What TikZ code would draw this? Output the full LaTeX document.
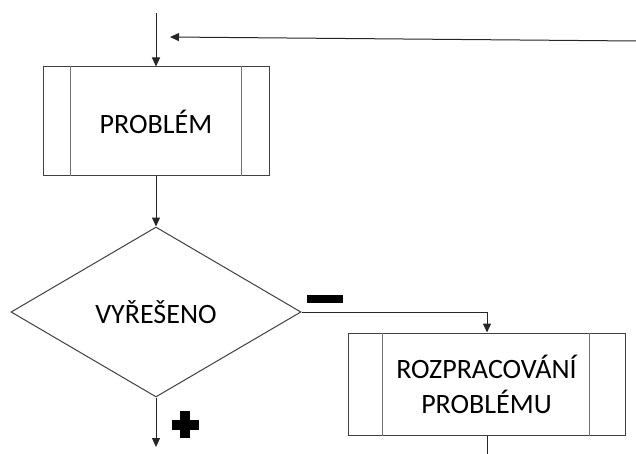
\documentclass[tikz,border=0pt]{standalone}
\usepackage{fontspec}
\setmainfont{Carlito}
\usetikzlibrary{shapes.geometric,arrows.meta}

\begin{document}
\begin{tikzpicture}[x=1pt,y=-1pt,
  frame/.style={draw=black!75,line width=1pt},
  innerline/.style={draw=black!55,line width=1pt},
  flow/.style={draw=black!85,line width=1pt,-{Triangle[width=8pt,length=9pt]}},
  plainflow/.style={draw=black!85,line width=1pt},
  label/.style={font=\fontsize{28}{35}\selectfont,align=center,text=black},
  procbox/.style={frame,rectangle,inner sep=0pt,label},
  decision/.style={frame,diamond,inner sep=0pt,minimum width=290pt,minimum height=170pt,label}
]
\useasboundingbox (0,0) rectangle (636,454);

% process boxes with double side bars
\node[procbox,minimum width=226pt,minimum height=109pt] (problem) at (156,121.5) {PROBLÉM};
\draw[innerline] ([xshift=28pt]problem.north west) -- ([xshift=28pt]problem.south west);
\draw[innerline] ([xshift=-28pt]problem.north east) -- ([xshift=-28pt]problem.south east);

\node[decision] (solved) at (156,312) {VYŘEŠENO};

\node[procbox,minimum width=277pt,minimum height=102pt] (work) at (486.5,384)
  {ROZPRACOVÁNÍ\\PROBLÉMU};
\draw[innerline] ([xshift=35pt]work.north west) -- ([xshift=35pt]work.south west);
\draw[innerline] ([xshift=-36pt]work.north east) -- ([xshift=-36pt]work.south east);

% loose ends
\coordinate (entry) at (156,13);
\coordinate (returnstart) at (636,41);
\coordinate (returnend) at (170,37);
\coordinate (corner) at (487,312);
\coordinate (yesend) at (156,447);
\coordinate (workout) at (487,454);

% connectors
\draw[flow] (entry) -- (problem.north);
\draw[flow] (returnstart) -- (returnend);
\draw[flow] (problem.south) -- (solved.north);
\draw[plainflow] (solved.east) -- (corner);
\draw[flow] (corner) -- (work.north -| corner);
\draw[flow] (solved.south) -- (yesend);
\draw[plainflow] (work.south -| workout) -- (workout);

% branch signs
\fill[black] (307,295) rectangle (343,303);
\fill[black] (180,411) rectangle (190,438);
\fill[black] (171.5,419.5) rectangle (198.5,429.5);
\end{tikzpicture}
\end{document}
